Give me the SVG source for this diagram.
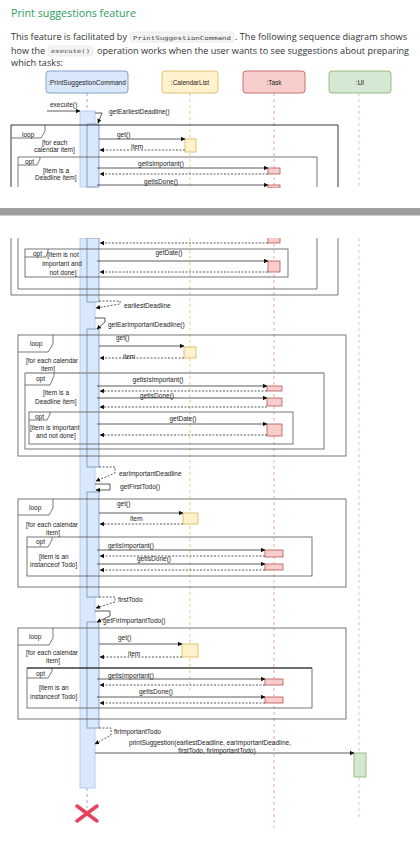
<svg xmlns="http://www.w3.org/2000/svg" width="420" height="842" viewBox="0 0 420 842">
<defs>
<marker id="arr" viewBox="0 0 10 10" refX="9" refY="5" markerWidth="4.5" markerHeight="4.5" orient="auto" markerUnits="userSpaceOnUse"><path d="M0,0 L10,5 L0,10 Z" fill="#111"/></marker>
</defs>
<style>
.t{font-family:"Liberation Sans",Arial,sans-serif;font-size:6.5px;fill:#222}
.p{font-family:"Open Sans","Liberation Sans",sans-serif;font-size:8.6px;fill:#333}
.code{font-family:"DejaVu Sans Mono","Liberation Mono",monospace;font-size:5.6px;fill:#444}
.codebg{fill:#f3f3f3;stroke:#e2e2e2;stroke-width:0.5}
.msg{stroke:#333;stroke-width:0.8;fill:none;marker-end:url(#arr)}
.ret{stroke:#333;stroke-width:0.8;stroke-dasharray:2 1.5;fill:none;marker-end:url(#arr)}
.fr{fill:none;stroke:#555;stroke-width:0.8}
.ll{stroke-width:0.7;stroke-dasharray:3 3;fill:none}
.bar{fill:#dae8fc;stroke:#6c8ebf;stroke-width:0.8}
.bar2{fill:#dae8fc;stroke:#a9c4eb;stroke-width:0.8}
.cl{fill:#fff2cc;stroke:#d6b656;stroke-width:0.8}
.tk{fill:#f8cecc;stroke:#b85450;stroke-width:0.8}
.ui{fill:#d5e8d4;stroke:#82b366;stroke-width:0.8}
</style>
<rect width="420" height="842" fill="#ffffff"/>
<!-- heading and text -->
<text x="11" y="17" font-family="'Open Sans','Liberation Sans',sans-serif" font-size="10.5px" fill="#2b9e5b" textLength="125" lengthAdjust="spacingAndGlyphs">Print suggestions feature</text>
<text class="p" x="11" y="40" textLength="116" lengthAdjust="spacingAndGlyphs">This feature is facilitated by</text>
<rect class="codebg" x="130" y="32" width="104" height="10" rx="2"/>
<text class="code" x="133" y="39.5" textLength="98" lengthAdjust="spacingAndGlyphs">PrintSuggestionCommand</text>
<text class="p" x="235" y="40" textLength="172" lengthAdjust="spacingAndGlyphs">. The following sequence diagram shows</text>
<text class="p" x="11" y="53.5" textLength="34" lengthAdjust="spacingAndGlyphs">how the</text>
<rect class="codebg" x="48" y="46" width="45" height="10" rx="2"/>
<text class="code" x="51" y="53" textLength="39" lengthAdjust="spacingAndGlyphs">execute()</text>
<text class="p" x="97" y="53.5" textLength="312" lengthAdjust="spacingAndGlyphs">operation works when the user wants to see suggestions about preparing</text>
<text class="p" x="11" y="66" textLength="52" lengthAdjust="spacingAndGlyphs">which tasks:</text>

<!-- participants -->
<g id="psc">
<rect x="46" y="71" width="82" height="22" rx="3" fill="#dae8fc" stroke="#6c8ebf" stroke-width="0.8"/>
<text class="t" x="87" y="84.5" text-anchor="middle">:PrintSuggestionCommand</text>
<path class="ll" stroke="#6c8ebf" d="M87,93 V111 M87,788 V808"/>
<rect class="bar2" x="80" y="111" width="15" height="76"/>
<rect class="bar" x="87" y="124" width="12" height="63"/>
<rect class="bar2" x="80" y="238" width="15" height="550"/>
<rect class="bar" x="87" y="238" width="12" height="64"/>
<rect class="bar" x="87" y="329" width="12" height="138"/>
<rect class="bar" x="87" y="492" width="12" height="105"/>
<rect class="bar" x="87" y="622" width="12" height="106"/>
<path d="M77,806 L97,821 M97,806 L77,821" stroke="#e8405f" stroke-width="3.5" stroke-linecap="round"/>
</g>
<g id="calendarlist">
<rect x="162" y="71" width="56" height="22" rx="3" fill="#fff2cc" stroke="#d6b656" stroke-width="0.8"/>
<text class="t" x="190" y="84.5" text-anchor="middle">:CalendarList</text>
<path class="ll" stroke="#d6b656" d="M190,93 V187 M190,238 V690"/>
<rect class="cl" x="185" y="139" width="11" height="13"/>
<rect class="cl" x="184" y="347" width="12" height="11"/>
<rect class="cl" x="183" y="513" width="15" height="11"/>
<rect class="cl" x="182" y="644" width="16" height="13"/>
</g>
<g id="task">
<rect x="243" y="71" width="62" height="22" rx="3" fill="#f8cecc" stroke="#b85450" stroke-width="0.8"/>
<text class="t" x="274" y="84.5" text-anchor="middle">:Task</text>
<path class="ll" stroke="#d98a87" d="M274,93 V187 M274,238 V828"/>
<rect class="tk" x="268" y="168" width="12" height="6"/>
<rect class="tk" x="268" y="185" width="12" height="3"/>
<rect class="tk" x="268" y="237" width="12" height="6"/>
<rect class="tk" x="268" y="261" width="12" height="11"/>
<rect class="tk" x="267" y="386" width="15" height="5"/>
<rect class="tk" x="267" y="398" width="15" height="8"/>
<rect class="tk" x="267" y="424" width="15" height="12"/>
<rect class="tk" x="265" y="550" width="18" height="7"/>
<rect class="tk" x="265" y="564" width="18" height="6"/>
<rect class="tk" x="265" y="679" width="18" height="6"/>
<rect class="tk" x="265" y="697" width="18" height="6"/>
</g>
<g id="ui">
<rect x="329" y="71" width="62" height="22" rx="3" fill="#d5e8d4" stroke="#82b366" stroke-width="0.8"/>
<text class="t" x="360" y="84.5" text-anchor="middle">:UI</text>
<path class="ll" stroke="#a8c896" d="M359,93 V187 M359,238 V817"/>
<rect class="ui" x="354" y="753" width="12" height="24"/>
</g>

<!-- frames -->
<g id="frames">
<path d="M11,187 V125 H338 V187" fill="none" stroke="#222" stroke-width="0.9"/>
<path class="fr" d="M11,238 V295 H338 V238"/>
<path class="fr" d="M11,138 H41 L45,131 V125"/>
<text class="t" x="22" y="136.5">loop</text>
<text class="t" x="42" y="144.5">[for each</text>
<text class="t" x="34" y="152">calendar item]</text>

<path class="fr" d="M18,187 V157 H317 V187"/>
<path class="fr" d="M18,238 V289 H317 V238"/>
<path class="fr" d="M18,165 H37 L40,159 V157"/>
<text class="t" x="25" y="163.5">opt</text>
<text class="t" x="43" y="172.5">[item is a</text>
<text class="t" x="35" y="180">Deadline item]</text>

<rect class="fr" x="25" y="249" width="263" height="28"/>
<path class="fr" d="M25,257 H46 L48,251 V249"/>
<text class="t" x="33" y="256">opt</text>
<text class="t" x="63" y="256.5" text-anchor="middle">[item is not</text>
<text class="t" x="62" y="266" text-anchor="middle">important and</text>
<text class="t" x="63" y="274.5" text-anchor="middle">not done]</text>

<rect class="fr" x="18" y="335" width="328" height="121"/>
<path class="fr" d="M18,352 H48 L53,344 V335"/>
<text class="t" x="30" y="346">loop</text>
<text class="t" x="26" y="363">[for each calendar</text>
<text class="t" x="41" y="371">item]</text>

<rect class="fr" x="25" y="373" width="299" height="76"/>
<path d="M25,373 H324" stroke="#aaa" stroke-width="1.2"/>
<path class="fr" d="M25,385 H50 L54,376 V373"/>
<text class="t" x="36" y="381">opt</text>
<text class="t" x="43" y="395">[item is a</text>
<text class="t" x="35" y="403.5">Deadline item]</text>

<rect class="fr" x="29" y="412" width="264" height="32"/>
<path class="fr" d="M29,420 H47 L50,414 V412"/>
<text class="t" x="35" y="418.5">opt</text>
<text class="t" x="30" y="429.5">[item is important</text>
<text class="t" x="36" y="438">and not done]</text>

<rect class="fr" x="18" y="499" width="328" height="88"/>
<path class="fr" d="M18,515 H49 L53,508 V499"/>
<text class="t" x="29" y="510">loop</text>
<text class="t" x="26" y="526.5">[for each calendar</text>
<text class="t" x="46" y="534.5">item]</text>

<rect class="fr" x="27" y="537" width="285" height="39"/>
<path class="fr" d="M27,547 H48 L52,540 V537"/>
<text class="t" x="36" y="544">opt</text>
<text class="t" x="39" y="558.5">[item is an</text>
<text class="t" x="30" y="566.5">instanceof Todo]</text>

<rect class="fr" x="18" y="628" width="328" height="91"/>
<path class="fr" d="M18,645 H49 L53,638 V628"/>
<text class="t" x="29" y="639">loop</text>
<text class="t" x="26" y="655">[for each calendar</text>
<text class="t" x="46" y="662.5">item]</text>

<rect class="fr" x="27" y="668" width="285" height="40"/>
<path d="M27,668 H312" stroke="#111" stroke-width="0.9"/>
<path class="fr" d="M27,678 H48 L52,671 V668"/>
<text class="t" x="36" y="676">opt</text>
<text class="t" x="39" y="690">[item is an</text>
<text class="t" x="30" y="698.5">instanceof Todo]</text>
</g>

<!-- gap between screenshots -->
<rect x="0" y="188" width="420" height="50" fill="#ffffff"/>
<rect x="0" y="208" width="420" height="7.5" fill="#9e9e9e"/>

<!-- connectors -->
<g id="connectors">
<path class="msg" d="M47,111 H80"/>
<text class="t" x="50" y="107">execute()</text>
<path class="msg" d="M95,113 H102 L98,123"/>
<text class="t" x="109" y="113.5">getEarliestDeadline()</text>
<path class="msg" d="M99,139 H185"/>
<text class="t" x="117" y="136.5">get()</text>
<path class="ret" d="M185,150 H100"/>
<text class="t" x="131" y="148.5">item</text>
<path class="msg" d="M97,168 H268"/>
<text class="t" x="161" y="166" text-anchor="middle">getIsImportant()</text>
<path class="ret" d="M268,174 H100"/>
<path class="msg" d="M97,185 H268"/>
<text class="t" x="161" y="183.5" text-anchor="middle">getIsDone()</text>

<path class="ret" d="M268,243 H100"/>
<path class="msg" d="M97,261 H268"/>
<text class="t" x="169" y="254.5" text-anchor="middle">getDate()</text>
<path class="ret" d="M268,272 H100"/>

<path class="ret" d="M99,301 H120 V304 L96,308"/>
<text class="t" x="124" y="308">earliestDeadline</text>
<path class="msg" d="M95,318 H105 V322 L97,329"/>
<text class="t" x="108" y="326.5">getEarImportantDeadline()</text>
<path class="msg" d="M99,346 H184"/>
<text class="t" x="116" y="340">get()</text>
<path class="ret" d="M184,358 H100"/>
<text class="t" x="123" y="358.5">item</text>
<path class="msg" d="M97,386 H267"/>
<text class="t" x="158" y="382" text-anchor="middle">getIsIsImportant()</text>
<path class="ret" d="M267,391 H100"/>
<path class="msg" d="M97,398 H267"/>
<text class="t" x="157" y="397.5" text-anchor="middle">getIsDone()</text>
<path class="ret" d="M267,407 H100"/>
<path class="msg" d="M97,424 H267"/>
<text class="t" x="183" y="420.5" text-anchor="middle">getDate()</text>
<path class="ret" d="M267,435 H100"/>

<path class="ret" d="M99,467 H115 V473 L96,481"/>
<text class="t" x="119" y="475.5">earImportantDeadline</text>
<path class="msg" d="M95,484 H110 V490 H96"/>
<text class="t" x="120" y="488.5">getFirstTodo()</text>
<path class="msg" d="M99,513 H183"/>
<text class="t" x="117" y="506">get()</text>
<path class="ret" d="M183,524 H100"/>
<text class="t" x="130" y="520.5">Item</text>
<path class="msg" d="M97,550 H265"/>
<text class="t" x="108" y="547.5">getIsImportant()</text>
<path class="ret" d="M265,556 H100"/>
<path class="msg" d="M97,564 H265"/>
<text class="t" x="137" y="560.5">getIsDone()</text>
<path class="ret" d="M265,570 H100"/>

<path class="ret" d="M99,597 H115 V602 L96,608"/>
<text class="t" x="118" y="601.5">firstTodo</text>
<path class="msg" d="M95,611 H110 V616 L97,622"/>
<text class="t" x="103" y="622.5">getFirImportantTodo()</text>
<path class="msg" d="M99,644 H182"/>
<text class="t" x="118" y="639.5">get()</text>
<path class="ret" d="M182,657 H100"/>
<text class="t" x="128" y="655.5">item</text>
<path class="msg" d="M97,679 H265"/>
<text class="t" x="108" y="677.5">getIsImportant()</text>
<path class="ret" d="M265,685 H100"/>
<path class="msg" d="M97,697 H265"/>
<text class="t" x="139" y="693.5">getIsDone()</text>
<path class="ret" d="M265,703 H100"/>

<path class="ret" d="M99,728 H111 V735 L95,744"/>
<text class="t" x="114" y="733.5">firImportantTodo</text>
<path class="msg" d="M95,753 H354"/>
<text class="t" x="210" y="744.5" text-anchor="middle">printSuggestion(earliestDeadline, earImportantDeadline,</text>
<text class="t" x="217" y="752.5" text-anchor="middle">firstTodo, firImportantTodo)</text>
</g>
</svg>
